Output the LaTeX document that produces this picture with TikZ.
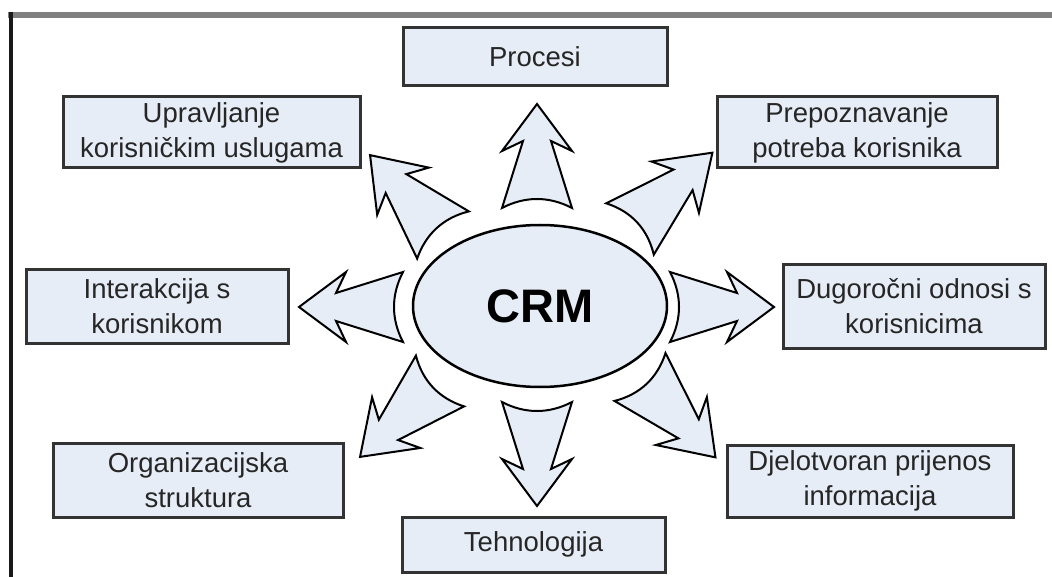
\documentclass[tikz,border=0pt]{standalone}
\usepackage{fontspec}
\setmainfont{Liberation Sans}
\usetikzlibrary{shapes.geometric}
\definecolor{boxfill}{RGB}{231,237,246}
\tikzset{
  box/.style={draw=black!80, line width=3pt, fill=boxfill, align=center,
    font=\fontsize{27.5}{35}\selectfont, text=black!85, inner sep=0pt},
  arrowshape/.style={draw=black, line width=2pt, fill=boxfill, line join=miter},
  blockarrow/.pic={\path[arrowshape] (0,-35) -- (67,-14) -- (57,-35) -- (104,0)
      -- (57,35) -- (67,14) -- (0,35) .. controls (12,12) and (12,-12) .. (0,-35) -- cycle;},
  frametop/.style={draw=black!50, line width=6pt},
  frameleft/.style={draw=black!90, line width=4pt}
}
\begin{document}
\begin{tikzpicture}[x=1pt,y=-1pt]
\useasboundingbox (0,0) rectangle (1052,577);
\draw[frametop] (8,15) -- (1052,15);
\draw[frameleft] (10.5,12) -- (10.5,577);

\node[box, minimum width=264pt, minimum height=58pt] (procesi) at (535,57) {Procesi};
\node[box, minimum width=297pt, minimum height=71pt] (upravljanje) at (211.5,132.5) {Upravljanje\\korisničkim uslugama};
\node[box, minimum width=280pt, minimum height=71pt] (prepoznavanje) at (857,132.5) {Prepoznavanje\\potreba korisnika};
\node[box, minimum width=262pt, minimum height=73pt] (interakcija) at (157,306.5) {Interakcija s\\korisnikom};
\node[box, minimum width=262pt, minimum height=83pt] (dugorocni) at (914,306.5) {Dugoročni odnosi s\\korisnicima};
\node[box, minimum width=290pt, minimum height=74pt] (organizacijska) at (198,480) {Organizacijska\\struktura};
\node[box, minimum width=286pt, minimum height=72pt] (djelotvoran) at (870,481) {Djelotvoran prijenos\\informacija};
\node[box, minimum width=263pt, minimum height=55pt] (tehnologija) at (533.5,544.5) {Tehnologija};

\node[ellipse, draw=black, line width=2.5pt, fill=boxfill, minimum width=254pt, minimum height=162pt,
  font=\bfseries\fontsize{47}{50}\selectfont] (crm) at (540,306) {CRM};

\pic[rotate=90] at (537,208) {blockarrow};
\pic[rotate=-90] at (537,402) {blockarrow};
\pic[rotate=180] at (403,307) {blockarrow};
\pic[rotate=0] at (670,307) {blockarrow};
\pic[rotate=132.4, xscale=1.04] at (443,235) {blockarrow};
\pic[rotate=42.8, xscale=1.08] at (630,229) {blockarrow};
\pic[rotate=-136.5, xscale=1.06] at (440,381) {blockarrow};
\pic[rotate=-46.8, xscale=1.06] at (640,377) {blockarrow};
\end{tikzpicture}
\end{document}
